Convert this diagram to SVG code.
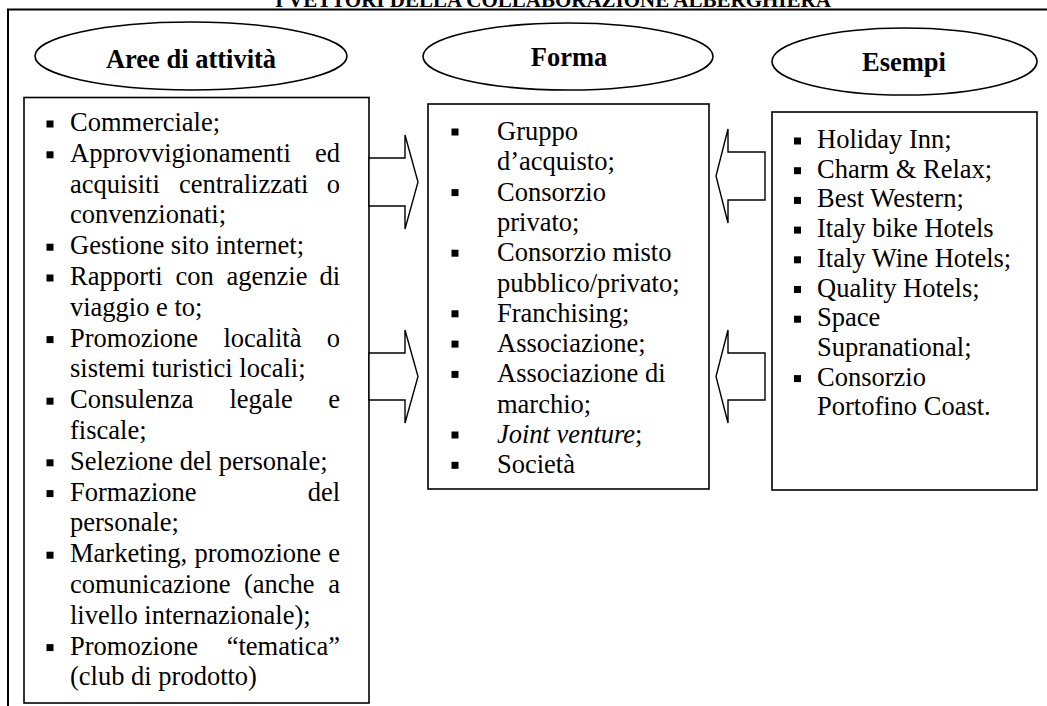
<svg xmlns="http://www.w3.org/2000/svg" xmlns:xlink="http://www.w3.org/1999/xlink" width="1047" height="706" viewBox="0 0 1047 706">
  <style>
    .frame { fill: none; stroke: #000; stroke-width: 2; }
    .box { fill: #fff; stroke: #000; stroke-width: 1.6; }
    .oval { fill: #fff; stroke: #000; stroke-width: 1.6; }
    .arrow { fill: #fff; stroke: #000; stroke-width: 1.4; stroke-linejoin: miter; }
    .title { font-family: "Liberation Serif", "Times New Roman", serif; font-weight: bold; font-size: 21px; fill: #000; }
    .head { font-family: "Liberation Serif", "Times New Roman", serif; font-weight: bold; font-size: 26.5px; fill: #000; text-anchor: middle; }
    .body { font-family: "Liberation Serif", "Times New Roman", serif; font-size: 26.5px; fill: #000; }
    .end { text-anchor: end; }
    .it { font-style: italic; }
  </style>
  <defs>
    <rect id="bul" width="7" height="7" fill="#000"/>
  </defs>

  <rect x="0" y="0" width="1047" height="706" fill="#fff"/>

  <!-- title line, partly above the page edge -->
  <g id="title">
    <text class="title" x="275" y="7">I VETTORI DELLA COLLABORAZIONE ALBERGHIERA</text>
  </g>

  <!-- outer frame: open at the bottom and right -->
  <g id="frame">
    <path class="frame" d="M8 706 V9.5 H1047"/>
  </g>

  <!-- column headers -->
  <g id="head-aree">
    <ellipse class="oval" cx="191" cy="56" rx="156" ry="34"/>
    <text class="head" x="191" y="68">Aree di attività</text>
  </g>
  <g id="head-forma">
    <ellipse class="oval" cx="568" cy="56.5" rx="145" ry="33.5"/>
    <text class="head" x="569" y="66">Forma</text>
  </g>
  <g id="head-esempi">
    <ellipse class="oval" cx="904.5" cy="61.5" rx="132.5" ry="33.5"/>
    <text class="head" x="904" y="71">Esempi</text>
  </g>

  <!-- activity areas -->
  <g id="box-aree">
    <rect class="box" x="24" y="97.5" width="345" height="605.5"/>
    <use xlink:href="#bul" x="46.5" y="120.5"/>
    <use xlink:href="#bul" x="46.5" y="151.3"/>
    <use xlink:href="#bul" x="46.5" y="243.7"/>
    <use xlink:href="#bul" x="46.5" y="274.5"/>
    <use xlink:href="#bul" x="46.5" y="336.1"/>
    <use xlink:href="#bul" x="46.5" y="397.7"/>
    <use xlink:href="#bul" x="46.5" y="459.3"/>
    <use xlink:href="#bul" x="46.5" y="490.1"/>
    <use xlink:href="#bul" x="46.5" y="551.7"/>
    <use xlink:href="#bul" x="46.5" y="644.1"/>
    <text class="body" x="70" y="131">Commerciale;</text>
    <text class="body" x="70" y="161.8">Approvvigionamenti</text>
    <text class="body end" x="340" y="161.8">ed</text>
    <text class="body" x="70" y="192.6">acquisiti</text>
    <text class="body" x="179" y="192.6">centralizzati</text>
    <text class="body end" x="340" y="192.6">o</text>
    <text class="body" x="70" y="223.4">convenzionati;</text>
    <text class="body" x="70" y="254.2">Gestione sito internet;</text>
    <text class="body" x="70" y="285">Rapporti</text>
    <text class="body" x="175.5" y="285">con</text>
    <text class="body" x="226.5" y="285">agenzie</text>
    <text class="body end" x="340" y="285">di</text>
    <text class="body" x="70" y="315.8">viaggio e to;</text>
    <text class="body" x="70" y="346.6">Promozione</text>
    <text class="body" x="223.5" y="346.6">località</text>
    <text class="body end" x="340" y="346.6">o</text>
    <text class="body" x="70" y="377.4">sistemi turistici locali;</text>
    <text class="body" x="70" y="408.2">Consulenza</text>
    <text class="body" x="229.5" y="408.2">legale</text>
    <text class="body end" x="340" y="408.2">e</text>
    <text class="body" x="70" y="439">fiscale;</text>
    <text class="body" x="70" y="469.8">Selezione del personale;</text>
    <text class="body" x="70" y="500.6">Formazione</text>
    <text class="body end" x="340" y="500.6">del</text>
    <text class="body" x="70" y="531.4">personale;</text>
    <text class="body" x="70" y="562.2">Marketing,</text>
    <text class="body" x="194.5" y="562.2">promozione</text>
    <text class="body end" x="340" y="562.2">e</text>
    <text class="body" x="70" y="593">comunicazione</text>
    <text class="body" x="244" y="593">(anche</text>
    <text class="body end" x="340" y="593">a</text>
    <text class="body" x="70" y="623.8">livello internazionale);</text>
    <text class="body" x="70" y="654.6">Promozione</text>
    <text class="body end" x="340" y="654.6">“tematica”</text>
    <text class="body" x="70" y="685.4">(club di prodotto)</text>
  </g>

  <!-- forms of collaboration -->
  <g id="box-forma">
    <rect class="box" x="428" y="104" width="281" height="385"/>
    <use xlink:href="#bul" x="451.5" y="128.5"/>
    <use xlink:href="#bul" x="451.5" y="189.1"/>
    <use xlink:href="#bul" x="451.5" y="249.7"/>
    <use xlink:href="#bul" x="451.5" y="310.3"/>
    <use xlink:href="#bul" x="451.5" y="340.6"/>
    <use xlink:href="#bul" x="451.5" y="370.9"/>
    <use xlink:href="#bul" x="451.5" y="431.5"/>
    <use xlink:href="#bul" x="451.5" y="461.8"/>
    <text class="body" x="497" y="140">Gruppo</text>
    <text class="body" x="497" y="170.3">d’acquisto;</text>
    <text class="body" x="497" y="200.6">Consorzio</text>
    <text class="body" x="497" y="230.9">privato;</text>
    <text class="body" x="497" y="261.2">Consorzio misto</text>
    <text class="body" x="497" y="291.5">pubblico/privato;</text>
    <text class="body" x="497" y="321.8">Franchising;</text>
    <text class="body" x="497" y="352.1">Associazione;</text>
    <text class="body" x="497" y="382.4">Associazione di</text>
    <text class="body" x="497" y="412.7">marchio;</text>
    <text class="body" x="497" y="443"><tspan class="it">Joint venture</tspan>;</text>
    <text class="body" x="497" y="473.3">Società</text>
  </g>

  <!-- examples -->
  <g id="box-esempi">
    <rect class="box" x="772" y="112" width="265" height="378"/>
    <use xlink:href="#bul" x="794" y="137.5"/>
    <use xlink:href="#bul" x="794" y="167.2"/>
    <use xlink:href="#bul" x="794" y="196.9"/>
    <use xlink:href="#bul" x="794" y="226.6"/>
    <use xlink:href="#bul" x="794" y="256.3"/>
    <use xlink:href="#bul" x="794" y="286"/>
    <use xlink:href="#bul" x="794" y="315.7"/>
    <use xlink:href="#bul" x="794" y="375.1"/>
    <text class="body" x="817" y="148">Holiday Inn;</text>
    <text class="body" x="817" y="177.7">Charm &amp; Relax;</text>
    <text class="body" x="817" y="207.4">Best Western;</text>
    <text class="body" x="817" y="237.1">Italy bike Hotels</text>
    <text class="body" x="817" y="266.8">Italy Wine Hotels;</text>
    <text class="body" x="817" y="296.5">Quality Hotels;</text>
    <text class="body" x="817" y="326.2">Space</text>
    <text class="body" x="817" y="355.9">Supranational;</text>
    <text class="body" x="817" y="385.6">Consorzio</text>
    <text class="body" x="817" y="415.3">Portofino Coast.</text>
  </g>

  <!-- block arrows between the columns -->
  <g id="connectors">
    <polygon class="arrow" points="369,158 405,158 405,135 418,182 405,229 405,206 369,206"/>
    <polygon class="arrow" points="369,353 405,353 405,330 418,376.5 405,423 405,400 369,400"/>
    <polygon class="arrow" points="765,152 728,152 728,129 716,176 728,223 728,200 765,200"/>
    <polygon class="arrow" points="765,353 728,353 728,330 716,376.5 728,423 728,400 765,400"/>
  </g>
</svg>
